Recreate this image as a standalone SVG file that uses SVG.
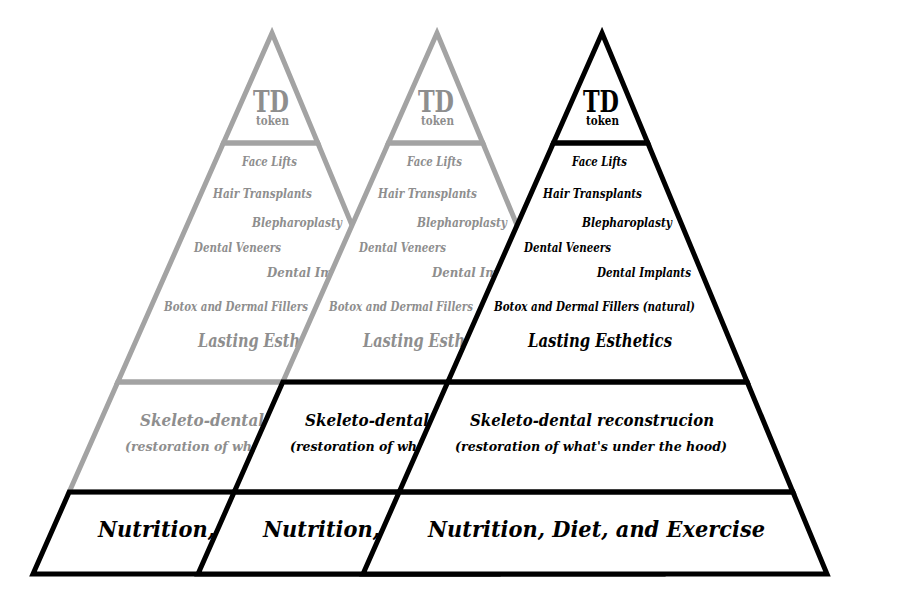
<svg xmlns="http://www.w3.org/2000/svg" width="902" height="610" viewBox="0 0 902 610">
<defs>
<style>
.fill{fill:#ffffff;stroke:none}
.sec{fill:none;stroke-width:5;stroke-linejoin:miter;stroke-miterlimit:10}
.g{stroke:#a3a3a3}
.k{stroke:#000000}
text{font-family:"DejaVu Serif","Liberation Serif",serif;font-weight:bold}
.it{font-style:italic}
.tg{fill:#8e8e8e}
.tk{fill:#000000}
.td{font-size:29px}
.tok{font-size:12px}
.sm{font-size:13.5px}
.le{font-size:18px}
.sk{font-size:17px}
.rs{font-size:13.5px}
.nu{font-size:21.5px}
</style>
</defs>
<rect x="0" y="0" width="902" height="610" fill="#ffffff"/>

<!-- back pyramid -->
<g id="pyramid-back" transform="translate(-330,0)">
  <polygon class="fill" points="602,33 827,574 363,574"/>
  <g id="back-td">
    <polygon class="sec g" points="602,33 647.8,143 553.4,143"/>
    <text class="td tg" x="583" y="111.5" textLength="36" lengthAdjust="spacingAndGlyphs">TD</text>
    <text class="tok tg" x="586" y="125" textLength="33" lengthAdjust="spacingAndGlyphs">token</text>
  </g>
  <g id="back-esthetics">
    <polygon class="sec g" points="553.4,143 647.8,143 747.2,382 447.8,382"/>
    <text class="it sm tg" x="572" y="166" textLength="55" lengthAdjust="spacingAndGlyphs">Face Lifts</text>
    <text class="it sm tg" x="543" y="198" textLength="99" lengthAdjust="spacingAndGlyphs">Hair Transplants</text>
    <text class="it sm tg" x="582" y="226.5" textLength="90" lengthAdjust="spacingAndGlyphs">Blepharoplasty</text>
    <text class="it sm tg" x="524" y="251.5" textLength="87" lengthAdjust="spacingAndGlyphs">Dental Veneers</text>
    <text class="it sm tg" x="597" y="277" textLength="74" lengthAdjust="spacingAndGlyphs">Dental Imp</text>
    <text class="it sm tg" x="494" y="310.5" textLength="144" lengthAdjust="spacingAndGlyphs">Botox and Dermal Fillers</text>
    <text class="it le tg" x="528" y="347" textLength="102" lengthAdjust="spacingAndGlyphs">Lasting Esth</text>
  </g>
  <g id="back-skeleto">
    <polygon class="sec g" points="447.8,382 747.2,382 792.9,492 399.2,492"/>
    <text class="it sk tg" x="470" y="425.5" textLength="124" lengthAdjust="spacingAndGlyphs">Skeleto-dental</text>
    <text class="it rs tg" x="455" y="450.5" textLength="127" lengthAdjust="spacingAndGlyphs">(restoration of wh</text>
  </g>
  <g id="back-nutrition">
    <polygon class="sec k" points="399.2,492 792.9,492 827,574 363,574"/>
    <text class="it nu tk" x="428" y="536.5" textLength="117" lengthAdjust="spacingAndGlyphs">Nutrition,</text>
  </g>
</g>

<!-- middle pyramid -->
<g id="pyramid-middle" transform="translate(-165,0)">
  <polygon class="fill" points="602,33 827,574 363,574"/>
  <g id="middle-td">
    <polygon class="sec g" points="602,33 647.8,143 553.4,143"/>
    <text class="td tg" x="583" y="111.5" textLength="36" lengthAdjust="spacingAndGlyphs">TD</text>
    <text class="tok tg" x="586" y="125" textLength="33" lengthAdjust="spacingAndGlyphs">token</text>
  </g>
  <g id="middle-esthetics">
    <polygon class="sec g" points="553.4,143 647.8,143 747.2,382 447.8,382"/>
    <text class="it sm tg" x="572" y="166" textLength="55" lengthAdjust="spacingAndGlyphs">Face Lifts</text>
    <text class="it sm tg" x="543" y="198" textLength="99" lengthAdjust="spacingAndGlyphs">Hair Transplants</text>
    <text class="it sm tg" x="582" y="226.5" textLength="90" lengthAdjust="spacingAndGlyphs">Blepharoplasty</text>
    <text class="it sm tg" x="524" y="251.5" textLength="87" lengthAdjust="spacingAndGlyphs">Dental Veneers</text>
    <text class="it sm tg" x="597" y="277" textLength="74" lengthAdjust="spacingAndGlyphs">Dental Imp</text>
    <text class="it sm tg" x="494" y="310.5" textLength="144" lengthAdjust="spacingAndGlyphs">Botox and Dermal Fillers</text>
    <text class="it le tg" x="528" y="347" textLength="102" lengthAdjust="spacingAndGlyphs">Lasting Esth</text>
  </g>
  <g id="middle-skeleto">
    <polygon class="sec k" points="447.8,382 747.2,382 792.9,492 399.2,492"/>
    <text class="it sk tk" x="470" y="425.5" textLength="124" lengthAdjust="spacingAndGlyphs">Skeleto-dental</text>
    <text class="it rs tk" x="455" y="450.5" textLength="127" lengthAdjust="spacingAndGlyphs">(restoration of wh</text>
  </g>
  <g id="middle-nutrition">
    <polygon class="sec k" points="399.2,492 792.9,492 827,574 363,574"/>
    <text class="it nu tk" x="428" y="536.5" textLength="117" lengthAdjust="spacingAndGlyphs">Nutrition,</text>
  </g>
</g>

<!-- front pyramid -->
<g id="pyramid-front">
  <polygon class="fill" points="602,33 827,574 363,574"/>
  <g id="front-td">
    <polygon class="sec k" points="602,33 647.8,143 553.4,143"/>
    <text class="td tk" x="583" y="111.5" textLength="36" lengthAdjust="spacingAndGlyphs">TD</text>
    <text class="tok tk" x="586" y="125" textLength="33" lengthAdjust="spacingAndGlyphs">token</text>
  </g>
  <g id="front-esthetics">
    <polygon class="sec k" points="553.4,143 647.8,143 747.2,382 447.8,382"/>
    <text class="it sm tk" x="572" y="166" textLength="55" lengthAdjust="spacingAndGlyphs">Face Lifts</text>
    <text class="it sm tk" x="543" y="198" textLength="99" lengthAdjust="spacingAndGlyphs">Hair Transplants</text>
    <text class="it sm tk" x="582" y="226.5" textLength="90" lengthAdjust="spacingAndGlyphs">Blepharoplasty</text>
    <text class="it sm tk" x="524" y="251.5" textLength="87" lengthAdjust="spacingAndGlyphs">Dental Veneers</text>
    <text class="it sm tk" x="597" y="277" textLength="94" lengthAdjust="spacingAndGlyphs">Dental Implants</text>
    <text class="it sm tk" x="494" y="310.5" textLength="201" lengthAdjust="spacingAndGlyphs">Botox and Dermal Fillers (natural)</text>
    <text class="it le tk" x="528" y="347" textLength="144" lengthAdjust="spacingAndGlyphs">Lasting Esthetics</text>
  </g>
  <g id="front-skeleto">
    <polygon class="sec k" points="447.8,382 747.2,382 792.9,492 399.2,492"/>
    <text class="it sk tk" x="470" y="425.5" textLength="244" lengthAdjust="spacingAndGlyphs">Skeleto-dental reconstrucion</text>
    <text class="it rs tk" x="455" y="450.5" textLength="272" lengthAdjust="spacingAndGlyphs">(restoration of what's under the hood)</text>
  </g>
  <g id="front-nutrition">
    <polygon class="sec k" points="399.2,492 792.9,492 827,574 363,574"/>
    <text class="it nu tk" x="428" y="536.5" textLength="337" lengthAdjust="spacingAndGlyphs">Nutrition, Diet, and Exercise</text>
  </g>
</g>
</svg>
